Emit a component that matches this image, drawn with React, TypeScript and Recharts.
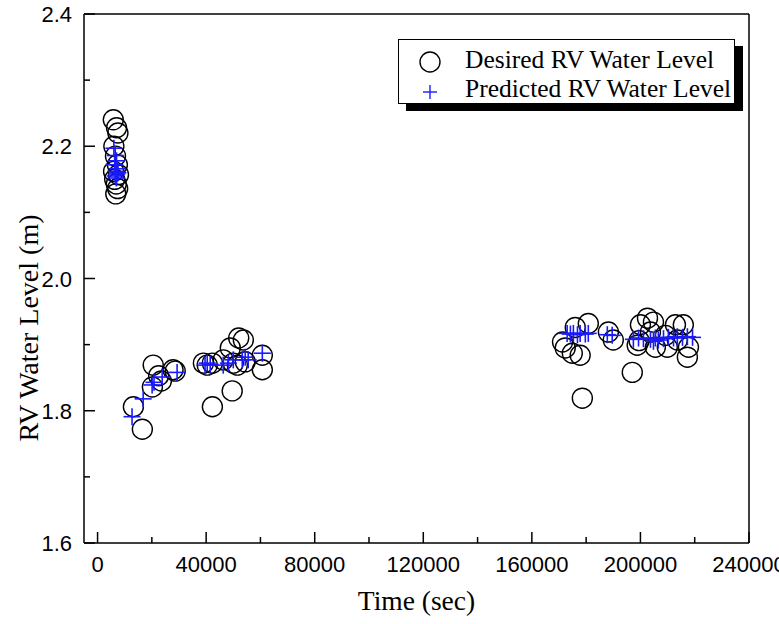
import React from 'react';
import { ScatterChart, Scatter, XAxis, YAxis, ReferenceLine } from 'recharts';

// Desired RV water level (open circles)
const desiredTime = [
  5800, 7000, 7500, 6000, 6600, 7300, 5900, 7700, 6300, 6900, 7400, 6700,
  13200, 16500, 20200, 20500, 22500, 23500, 28600, 27800,
  39000, 40400, 42300, 42300, 46300, 48900, 49600, 50000, 51500, 52000, 53700, 54400, 60700, 60700,
  171300, 172300, 174900, 177800, 176000, 180800, 178600, 188200, 190000, 197000, 198800, 200000,
  202600, 204800, 203700, 205500, 209200, 209900, 212900, 215800, 217700, 217300, 213600, 199500,
];
const desiredLevel = [
  2.240, 2.228, 2.220, 2.200, 2.185, 2.172, 2.162, 2.157, 2.150, 2.143, 2.136, 2.128,
  1.806, 1.772, 1.836, 1.869, 1.853, 1.845, 1.860, 1.862,
  1.872, 1.869, 1.872, 1.806, 1.877, 1.895, 1.830, 1.872, 1.869, 1.910, 1.907, 1.874, 1.862, 1.884,
  1.904, 1.895, 1.887, 1.884, 1.926, 1.932, 1.819, 1.919, 1.907, 1.858, 1.899, 1.930,
  1.940, 1.934, 1.919, 1.896, 1.914, 1.896, 1.930, 1.930, 1.896, 1.881, 1.907, 1.906,
];

// Predicted RV water level (blue plus)
const predictedTime = [
  6000, 6500, 7000, 6300, 7300, 6700, 7100, 6500, 7500, 6900,
  12700, 16800, 20100, 20800, 23800, 29300, 39600, 40400, 41500, 46300, 48200, 50000, 53300, 54400, 55500, 60700,
  173000, 174200, 175300, 176800, 177800, 179700, 180800, 187800, 189600, 197400, 199300, 201100,
  203700, 204800, 205500, 206600, 208500, 210300, 212200, 213600, 215500, 217300, 219200,
];
const predictedLevel = [
  2.197, 2.186, 2.178, 2.172, 2.166, 2.162, 2.158, 2.155, 2.160, 2.152,
  1.791, 1.818, 1.839, 1.843, 1.851, 1.858, 1.869, 1.872, 1.870, 1.869, 1.872, 1.877, 1.877, 1.881, 1.877, 1.887,
  1.917, 1.916, 1.917, 1.915, 1.917, 1.916, 1.917, 1.915, 1.914, 1.908, 1.910, 1.909,
  1.908, 1.905, 1.910, 1.907, 1.909, 1.911, 1.910, 1.912, 1.911, 1.912, 1.911,
];

const xTicks = [0, 20000, 40000, 60000, 80000, 100000, 120000, 140000, 160000, 180000, 200000, 220000, 240000];
const yTicks = [1.6, 1.7, 1.8, 1.9, 2.0, 2.1, 2.2, 2.3, 2.4];

const desired = desiredTime.map((t, i) => ({ t, level: desiredLevel[i] }));
const predicted = predictedTime.map((t, i) => ({ t, level: predictedLevel[i] }));

const BLUE = '#1a1aff';
const SERIF = 'Liberation Serif, Times New Roman';
const SANS = 'Liberation Sans, Arial';

const Circle = (props: any) => (
  <circle cx={props.cx} cy={props.cy} r={10} fill="none" stroke="#000" strokeWidth={1.4} />
);

const Plus = (props: any) => {
  const { cx, cy } = props;
  return (
    <g stroke={BLUE} strokeWidth={1.6}>
      <line x1={cx - 8.5} y1={cy} x2={cx + 8.5} y2={cy} />
      <line x1={cx} y1={cy - 8.5} x2={cx} y2={cy + 8.5} />
    </g>
  );
};

const XTick = (props: any) => {
  const { x, y, payload } = props;
  const major = payload.value % 40000 === 0;
  return (
    <g>
      <line x1={x} y1={y} x2={x} y2={y - (major ? 11 : 6)} stroke="#000" strokeWidth={1.5} />
      {major && (
        <text x={x} y={y + 29} textAnchor="middle" fontFamily={SANS} fontSize={22} fill="#000">
          {payload.value}
        </text>
      )}
    </g>
  );
};

const YTick = (props: any) => {
  const { x, y, payload } = props;
  const major = Math.round(payload.value * 10) % 2 === 0;
  return (
    <g>
      <line x1={x} y1={y} x2={x + (major ? 11 : 6)} y2={y} stroke="#000" strokeWidth={1.5} />
      {major && (
        <text x={x - 12} y={y + 8} textAnchor="end" fontFamily={SANS} fontSize={22} fill="#000">
          {payload.value.toFixed(1)}
        </text>
      )}
    </g>
  );
};

const YTitle = () => (
  <text
    x={28}
    y={328}
    transform="rotate(-90, 28, 328)"
    textAnchor="middle"
    dominantBaseline="central"
    fontFamily={SERIF}
    fontSize={28}
    fill="#000"
  >
    RV Water Level (m)
  </text>
);

// legend drawn as an overlay so it doesn't eat plot space
const LegendBox = () => (
  <div
    style={{
      position: 'absolute',
      left: 398,
      top: 39,
      width: 335,
      height: 63,
      border: '1px solid #000',
      background: '#fff',
      boxShadow: '8px 7px 0 #000',
    }}
  >
    <svg width={335} height={63} style={{ display: 'block' }}>
      <circle cx={31} cy={22} r={10} fill="none" stroke="#000" strokeWidth={1.4} />
      <text x={66} y={28} fontFamily={SERIF} fontSize={25.5} fill="#000">
        Desired RV Water Level
      </text>
      <g stroke={BLUE} strokeWidth={1.4}>
        <line x1={24} y1={52} x2={38} y2={52} />
        <line x1={31} y1={45} x2={31} y2={59} />
      </g>
      <text x={66} y={57} fontFamily={SERIF} fontSize={25.5} fill="#000">
        Predicted RV Water Level
      </text>
    </svg>
  </div>
);

export default function App() {
  return (
    <div style={{ position: 'absolute', left: 0, top: 0, width: 779, height: 624, overflow: 'hidden', background: '#fff' }}>
      <ScatterChart width={779} height={624} margin={{ top: 14, right: 30, bottom: 0, left: 0 }}>
        <XAxis
          type="number"
          dataKey="t"
          domain={[-5000, 240000]}
          ticks={xTicks}
          interval={0}
          height={81}
          tickSize={0}
          tickMargin={0}
          tick={<XTick />}
          axisLine={{ stroke: '#000', strokeWidth: 1.5 }}
          allowDataOverflow
          label={{
            value: 'Time (sec)',
            position: 'insideBottom',
            offset: 14,
            style: { fontFamily: SERIF, fontSize: 27.5, fill: '#000' },
          }}
        />
        <YAxis
          type="number"
          dataKey="level"
          domain={[1.6, 2.4]}
          ticks={yTicks}
          interval={0}
          width={84}
          tickSize={0}
          tickMargin={0}
          tick={<YTick />}
          axisLine={{ stroke: '#000', strokeWidth: 1.5 }}
          allowDataOverflow
          label={{ content: <YTitle /> }}
        />
        <ReferenceLine y={2.4} stroke="#000" strokeWidth={1.5} />
        <ReferenceLine x={240000} stroke="#000" strokeWidth={1.5} />
        <Scatter name="Desired RV Water Level" data={desired} shape={<Circle />} isAnimationActive={false} />
        <Scatter name="Predicted RV Water Level" data={predicted} shape={<Plus />} isAnimationActive={false} />
      </ScatterChart>
      <LegendBox />
    </div>
  );
}
